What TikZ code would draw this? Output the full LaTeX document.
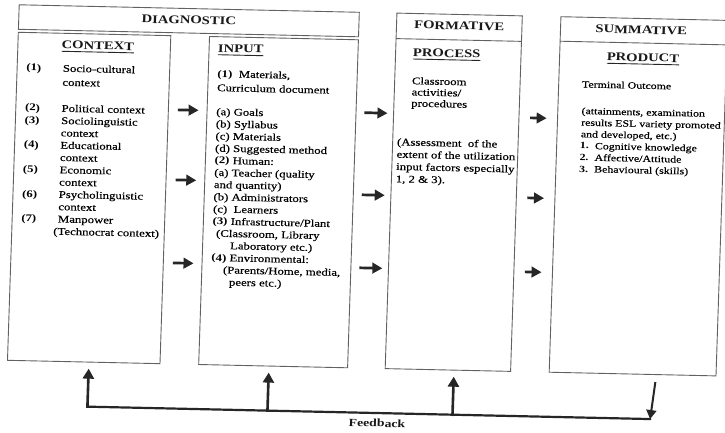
\documentclass[tikz,border=0pt]{standalone}
\usepackage{fontspec}
\setmainfont{Liberation Serif}[FakeStretch=1.25,UprightFeatures={FakeBold=0.35}]
\usetikzlibrary{arrows.meta,calc}
\newcommand\bodyfs{\fontsize{10.2}{12.2}\selectfont}
\newcommand\sumfs{\fontsize{9.5}{11.3}\selectfont}
\newcommand\headfs{\fontsize{11.7}{13}\selectfont\bfseries}
\begin{document}
\begin{tikzpicture}[x=1pt,y=-1pt,
  box/.style={draw=black!62,line width=0.9pt,inner sep=0pt,outer sep=0pt,anchor=north west},
  rulel/.style={draw=black!62,line width=0.9pt},
  txt/.style={inner sep=0pt,outer sep=0pt,anchor=base west,font=\bodyfs,text=black},
  lbl/.style={txt,font=\bodyfs\bfseries},
  stxt/.style={txt,font=\sumfs},
  slbl/.style={txt,font=\sumfs\bfseries},
  head/.style={inner sep=0pt,outer sep=0pt,anchor=base,font=\headfs,text=black!90},
  uhead/.style={head,text depth=2.5pt},
  uline/.style={draw=black!85,line width=0.9pt},
  flow/.style={draw=black!85,line width=2.7pt,-{Triangle[length=10pt,width=10.5pt]}},
  fbup/.style={draw=black!85,line width=2.6pt,line cap=rect,-{Triangle[length=10pt,width=11pt]}},
  fbline/.style={draw=black!85,line width=2.2pt,line cap=rect},
  fbdown/.style={draw=black!85,line width=2pt,-{Triangle[length=9pt,width=10pt]}}
]
\path[fill=white,use as bounding box] (0,0) rectangle (725,432);
\begin{scope}[cm={1,-0.022,0.033,1,(7.13pt,7.98pt)},every node/.append style={transform shape}]
% boxes
\node[box,minimum width=340.1pt,minimum height=24.5pt] (dgh) at (12.5,12.5) {};
\node[box,minimum width=152.5pt,minimum height=328pt] (ctx) at (12.5,40) {};
\node[box,minimum width=148.9pt,minimum height=328pt] (inp) at (203.7,40) {};
\node[box,minimum width=125.4pt,minimum height=355.5pt] (frm) at (390.2,12.5) {};
\node[box,minimum width=166.8pt,minimum height=355.5pt] (smm) at (554.2,12.5) {};
\draw[rulel] ($(frm.north west)!0.0717!(frm.south west)$) -- ($(frm.north east)!0.0717!(frm.south east)$);
\draw[rulel] ($(smm.north west)!0.0689!(smm.south west)$) -- ($(smm.north east)!0.0689!(smm.south east)$);
% headings
\node[head] (hdg) at (182.5,27.8) {DIAGNOSTIC};
\node[head] (hfm) at (452.9,27.8) {FORMATIVE};
\node[head] (hsm) at (635,27.8) {SUMMATIVE};
\node[uhead] (hct) at (92.5,55.5) {CONTEXT};
\node[uhead,anchor=base west] (hin) at (212.6,55.5) {INPUT};
\node[uhead,anchor=base west] (hpr) at (407.6,55.5) {PROCESS};
\node[uhead] (hpd) at (637.6,55.5) {PRODUCT};
\draw[uline] (hct.south west) -- (hct.south east);
\draw[uline] (hin.south west) -- (hin.south east);
\draw[uline] (hpr.south west) -- (hpr.south east);
\draw[uline] (hpd.south west) -- (hpd.south east);
% context text
\node[lbl] (c1n) at (21.8,78.4) {(1)};
\node[txt] (c1t) at (58.3,78.4) {Socio-cultural};
\node[txt] (c1u) at (58.3,92.4) {context};
\foreach \pa/\pb [count=\i] in {{(2)}/{Political context},{(3)}/{Sociolinguistic},{}/{context},{(4)}/{Educational},{}/{context},{(5)}/{Economic},{}/{context},{(6)}/{Psycholinguistic},{}/{context},{(7)}/{Manpower},{}/{\llap{(}Technocrat context)}}{
  \node[lbl] (cl\i) at (21.8,{118.4+12.3*(\i-1)}) {\pa};
  \node[txt] (ct\i) at (58.3,{118.4+12.3*(\i-1)}) {\pb};
}
% input text
\node[txt] (i1) at (213,80.4) {\textbf{(1)}\ \ Materials,};
\node[txt] (i2) at (213,94.4) {Curriculum document};
\foreach \pa/\pb [count=\i] in {213/{(a) Goals},213/{(b) Syllabus},213/{(c) Materials},213/{(d) Suggested method},213/{\textbf{(2)} Human:},213/{(a) Teacher (quality},213/{and quantity)},213/{(b) Administrators},213/{(c)\ \ Learners},213/{\textbf{(3)} Infrastructure/Plant},216.8/{(Classroom, Library},231.2/{Laboratory etc.)},213/{\textbf{(4)} Environmental:},224.9/{(Parents/Home, media,},231.3/{peers etc.)}}{
  \node[txt] (in\i) at (\pa,{118.4+12.15*(\i-1)}) {\pb};
}
% formative text
\node[txt] (f1) at (407.5,83.2) {Classroom};
\node[txt] (f2) at (407.5,94.4) {activities/};
\node[txt] (f3) at (407.5,105.6) {procedures};
\node[txt] (f4) at (394.6,144.6) {(Assessment\ \ of the};
\node[txt] (f5) at (394.6,156.9) {extent of the utilization};
\node[txt] (f6) at (394.6,169.2) {input factors especially};
\node[txt] (f7) at (394.6,181.5) {1, 2 \& 3).};
% summative text
\node[stxt] (s1) at (577.5,82.7) {Terminal Outcome};
\node[stxt] (s2) at (578,109.3) {(attainments, examination};
\node[stxt] (s3) at (578,120.9) {results ESL variety promoted};
\node[stxt] (s4) at (578,132.5) {and developed, etc.)};
\node[slbl] (s5n) at (577.5,144.1) {1.};
\node[stxt] (s5) at (592.5,144.1) {Cognitive knowledge};
\node[slbl] (s6n) at (577.5,155.7) {2.};
\node[stxt] (s6) at (592.5,155.7) {Affective/Attitude};
\node[slbl] (s7n) at (577.5,167.3) {3.};
\node[stxt] (s7) at (592.5,167.3) {Behavioural (skills)};
% arrows context -> input
\draw[flow,shorten <=9.5pt,shorten >=8.5pt] ($(ctx.north east)!0.2256!(ctx.south east)$) -- ($(inp.north west)!0.2256!(inp.south west)$);
\draw[flow,shorten <=9.5pt,shorten >=8.5pt] ($(ctx.north east)!0.4390!(ctx.south east)$) -- ($(inp.north west)!0.4390!(inp.south west)$);
\draw[flow,shorten <=9.5pt,shorten >=8.5pt] ($(ctx.north east)!0.6921!(ctx.south east)$) -- ($(inp.north west)!0.6921!(inp.south west)$);
% arrows input -> formative
\draw[flow,shorten <=8.4pt,shorten >=6.2pt] ($(inp.north east)!0.2216!(inp.south east)$) -- ($(frm.north west)!0.2819!(frm.south west)$);
\draw[flow,shorten <=8.4pt,shorten >=6.2pt] ($(inp.north east)!0.4720!(inp.south east)$) -- ($(frm.north west)!0.5128!(frm.south west)$);
\draw[flow,shorten <=8.4pt,shorten >=6.2pt] ($(inp.north east)!0.6945!(inp.south east)$) -- ($(frm.north west)!0.7181!(frm.south west)$);
% arrows formative -> summative
\draw[flow,shorten <=11pt,shorten >=11pt] ($(frm.north east)!0.2861!(frm.south east)$) -- ($(smm.north west)!0.2861!(smm.south west)$);
\draw[flow,shorten <=11pt,shorten >=11pt] ($(frm.north east)!0.5111!(frm.south east)$) -- ($(smm.north west)!0.5111!(smm.south west)$);
\draw[flow,shorten <=11pt,shorten >=11pt] ($(frm.north east)!0.7193!(frm.south east)$) -- ($(smm.north west)!0.7193!(smm.south west)$);
% feedback
\coordinate (fb1) at (93.9,412.5);
\coordinate (fb2) at (273.9,412.5);
\coordinate (fb3) at (458.9,412.5);
\coordinate (fb4) at (656.5,412.5);
\draw[fbline] (fb1) -- (fb4);
\draw[fbup,shorten >=6.5pt] (fb1) -- ($(ctx.south west)!0.5338!(ctx.south east)$);
\draw[fbup,shorten >=6.5pt] (fb2) -- ($(inp.south west)!0.4715!(inp.south east)$);
\draw[fbup,shorten >=6.5pt] (fb3) -- ($(frm.south west)!0.5478!(frm.south east)$);
\draw[fbdown,shorten <=7.5pt] ($(smm.south west)!0.6421!(smm.south east)$) -- (fb4);
\node[head,font=\fontsize{11}{13}\selectfont\bfseries] (fbt) at (383.8,426.4) {Feedback};
\end{scope}
\end{tikzpicture}
\end{document}
